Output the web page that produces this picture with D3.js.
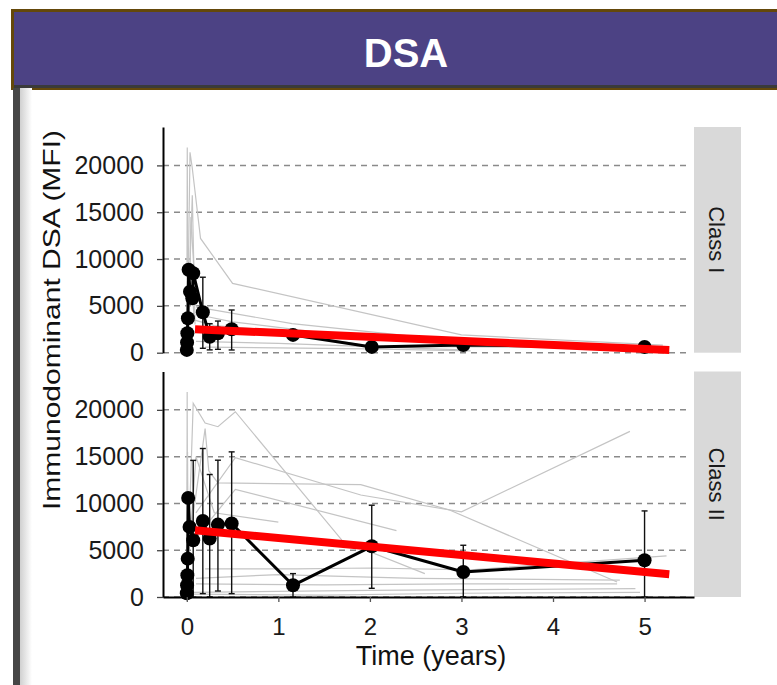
<!DOCTYPE html>
<html>
<head>
<meta charset="utf-8">
<script src="https://cdn.jsdelivr.net/npm/d3@7"></script>
<style>
  html, body { margin: 0; padding: 0; background: #fff; }
  svg { display: block; font-family: "Liberation Sans", Arial, sans-serif; }
</style>
</head>
<body>
<script>
// panels (facets)
const panels = ["Class I", "Class II"];

// tick labels
const yTicks = [0, 5000, 10000, 15000, 20000];
const xTicks = [0, 1, 2, 3, 4, 5];

// mean trajectory per panel (time in years, MFI)
const meanTimeI = [0, 0.003, 0.006, 0.012, 0.02, 0.035, 0.06, 0.07, 0.175, 0.25, 0.34, 0.49, 1.16, 2.02, 3.02, 5.0];
const meanValI = [300, 1100, 2070, 3680, 8850, 6520, 5820, 8490, 4320, 1710, 2070, 2500, 1900, 620, 820, 610];
const errLowI = [null, null, null, null, null, null, null, null, 470, 300, 360, 290, null, null, null, null];
const errHighI = [null, null, null, null, null, null, null, null, 8060, 3100, 3380, 4560, null, null, null, null];

const meanTimeII = [0, 0.003, 0.006, 0.01, 0.015, 0.03, 0.07, 0.175, 0.25, 0.34, 0.49, 1.16, 2.02, 3.02, 5.0];
const meanValII = [400, 1250, 2320, 4100, 10590, 7490, 6060, 8130, 6240, 7740, 7850, 1250, 5420, 2670, 3920];
const errLowII = [null, null, null, null, null, null, 0, 360, 0, 640, 360, 0, 930, 0, 0];
const errHighII = [null, null, null, null, null, null, 14600, 15870, 13090, 14620, 15510, 2500, 9810, 5530, 9200];

// linear fit end points
const fitTime = [0.09, 5.27];
const fitValI = [2500, 290];
const fitValII = [7130, 2430];

// individual patients, [time, MFI]
const subjectsI = [
  [[0, 300], [0.005, 21900], [0.012, 1000]],
  [[0.005, 1000], [0.035, 21400], [0.06, 19700], [0.15, 12200], [0.5, 7400], [3.0, 1900], [5.2, 800]],
  [[0.01, 2000], [0.06, 16800], [0.09, 3000]],
  [[0.02, 1500], [0.045, 14500], [0.1, 5000]],
  [[0.1, 4900], [1.15, 3100], [3.0, 1200], [5.1, 650]],
  [[0.15, 4000], [0.5, 3300], [2.0, 1500], [3.0, 900]],
  [[0.25, 2500], [1.15, 2000], [2.0, 700], [5.0, 500]],
  [[0.1, 1200], [1.0, 1000], [3.0, 300]],
  [[0.2, 600], [2.0, 400], [3.1, 200]],
  [[0.05, 8500], [0.08, 3500], [0.3, 2900], [1.1, 2300], [2.5, 1200]]
];

const subjectsII = [
  [[0, 300], [0.004, 21900], [0.01, 1500]],
  [[0, 1000], [0.008, 15500], [0.015, 3000]],
  [[0.01, 3000], [0.07, 20700], [0.2, 18600], [0.34, 18200], [0.53, 19800], [1.7, 6000], [2.6, 2500]],
  [[0.03, 6000], [0.2, 18000], [0.24, 13500], [0.34, 12200], [1.9, 12000], [2.87, 9300], [4.7, 1600]],
  [[0.1, 9000], [0.53, 14900], [1.9, 10900], [3.0, 9100], [4.84, 17700]],
  [[0.07, 6000], [0.53, 11500], [2.29, 7100]],
  [[0.2, 3000], [1.2, 3000], [2.0, 3100], [3.1, 2900], [5.24, 4400]],
  [[0.1, 2000], [1.0, 2400], [2.5, 2000], [4.73, 1800]],
  [[0.1, 1400], [1.5, 1300], [3.0, 1400], [4.7, 1400]],
  [[0.05, 500], [2.0, 700], [4.9, 900]],
  [[0.05, 300], [1.5, 200], [3.0, 400], [4.95, 500]],
  [[0.02, 4000], [0.1, 15000], [0.3, 9000], [1.0, 8000]]
];

const W = 777, H = 685;
const svg = d3.select("body").append("svg").attr("width", W).attr("height", H);

// header box
svg.append("rect").attr("x", 11).attr("y", 9).attr("width", W - 11).attr("height", 81).attr("fill", "#64480a");
svg.append("rect").attr("x", 14).attr("y", 12).attr("width", W - 14).attr("height", 73).attr("fill", "#4c4284");
svg.append("rect").attr("x", 14).attr("y", 85).attr("width", W - 14).attr("height", 3).attr("fill", "#3a3a3a");
svg.append("text").attr("x", 406).attr("y", 67).attr("text-anchor", "middle")
  .attr("font-size", 40).attr("font-weight", "bold").attr("fill", "#fff").text("DSA");

// left frame and shadow
const defs = svg.append("defs");
const grad = defs.append("linearGradient").attr("id", "shade");
grad.append("stop").attr("offset", "0%").attr("stop-color", "#d0d0d0");
grad.append("stop").attr("offset", "100%").attr("stop-color", "#ffffff");
svg.append("rect").attr("x", 13).attr("y", 88).attr("width", 7).attr("height", H - 88).attr("fill", "#464646");
svg.append("rect").attr("x", 20).attr("y", 88).attr("width", 12).attr("height", H - 88).attr("fill", "url(#shade)");

// scales
const x = d3.scaleLinear().domain([-0.26, 5.54]).range([163, 694]);
const panelTop = [127, 371.5];
const panelBottom = [352.7, 597];
const yMax = 24100;

const data = [
  { times: meanTimeI, vals: meanValI, lo: errLowI, hi: errHighI, fit: fitValI, subjects: subjectsI },
  { times: meanTimeII, vals: meanValII, lo: errLowII, hi: errHighII, fit: fitValII, subjects: subjectsII }
];

panels.forEach((name, p) => {
  const y = d3.scaleLinear().domain([0, yMax]).range([panelBottom[p], panelTop[p]]);
  const d = data[p];
  const g = svg.append("g");

  // dashed gridlines
  g.selectAll(".grid").data(yTicks).enter().append("line")
    .attr("x1", 163).attr("x2", 690)
    .attr("y1", v => y(v)).attr("y2", v => y(v))
    .attr("stroke", "#8a8a8a").attr("stroke-width", 1.5).attr("stroke-dasharray", "6,5");

  // patient lines
  const line = d3.line().x(q => x(q[0])).y(q => y(q[1]));
  g.selectAll(".subj").data(d.subjects).enter().append("path")
    .attr("d", line).attr("fill", "none")
    .attr("stroke", "#c4c4c4").attr("stroke-width", 1.2);

  // error bars
  const bars = d.times.map((t, i) => ({ t: t, lo: d.lo[i], hi: d.hi[i] })).filter(b => b.hi !== null);
  const eb = g.selectAll(".eb").data(bars).enter().append("g").attr("stroke", "#111").attr("stroke-width", 1.4);
  eb.append("line").attr("x1", b => x(b.t)).attr("x2", b => x(b.t)).attr("y1", b => y(b.lo)).attr("y2", b => y(b.hi));
  eb.append("line").attr("x1", b => x(b.t) - 3).attr("x2", b => x(b.t) + 3).attr("y1", b => y(b.hi)).attr("y2", b => y(b.hi));
  eb.append("line").attr("x1", b => x(b.t) - 3).attr("x2", b => x(b.t) + 3).attr("y1", b => y(b.lo)).attr("y2", b => y(b.lo));

  // mean line and points
  const pts = d.times.map((t, i) => [t, d.vals[i]]);
  g.append("path").attr("d", line(pts)).attr("fill", "none")
    .attr("stroke", "#000").attr("stroke-width", 3).attr("stroke-linejoin", "round");
  g.selectAll(".pt").data(pts).enter().append("circle")
    .attr("cx", q => x(q[0])).attr("cy", q => y(q[1])).attr("r", 7).attr("fill", "#000");

  // fitted line
  g.append("path").attr("d", line(fitTime.map((t, i) => [t, d.fit[i]])))
    .attr("stroke", "#ff0000").attr("stroke-width", 8).attr("fill", "none");

  // y axis
  const ya = g.append("g").attr("transform", "translate(163,0)")
    .call(d3.axisLeft(y).tickValues(yTicks).tickSize(6).tickSizeOuter(0).tickPadding(13).tickFormat(d3.format("d")));
  ya.select(".domain").attr("stroke", "#000").attr("stroke-width", 2);
  ya.selectAll(".tick line").attr("stroke", "#444").attr("stroke-width", 1.3);
  ya.selectAll(".tick text").attr("font-size", 25).attr("fill", "#1a1a1a")
    .attr("font-family", "Liberation Sans, Arial, sans-serif");

  // strip
  g.append("rect").attr("x", 694).attr("y", panelTop[p]).attr("width", 47)
    .attr("height", panelBottom[p] - panelTop[p]).attr("fill", "#d9d9d9");
  const cy = (panelTop[p] + panelBottom[p]) / 2;
  g.append("text").attr("transform", `translate(717,${cy}) rotate(90)`)
    .attr("text-anchor", "middle").attr("dy", "0.35em")
    .attr("font-size", 22).attr("fill", "#1a1a1a").text(name);
});

// x axis at bottom
const xa = svg.append("g").attr("transform", "translate(0,597)")
  .call(d3.axisBottom(x).tickValues(xTicks).tickSize(5).tickSizeOuter(0).tickPadding(16).tickFormat(d3.format("d")));
xa.select(".domain").attr("stroke", "#000").attr("stroke-width", 2);
xa.selectAll(".tick line").attr("stroke", "#555").attr("stroke-width", 1.3);
xa.selectAll(".tick text").attr("font-size", 24).attr("fill", "#1a1a1a")
  .attr("font-family", "Liberation Sans, Arial, sans-serif");

// axis titles
svg.append("text").attr("x", 431).attr("y", 665).attr("text-anchor", "middle")
  .attr("font-size", 27).attr("fill", "#111").text("Time (years)");
svg.append("text").attr("transform", "translate(60,320) rotate(-90)")
  .attr("text-anchor", "middle").attr("font-size", 24).attr("fill", "#111")
  .attr("textLength", 380).attr("lengthAdjust", "spacingAndGlyphs")
  .text("Immunodominant DSA (MFI)");
</script>
</body>
</html>
